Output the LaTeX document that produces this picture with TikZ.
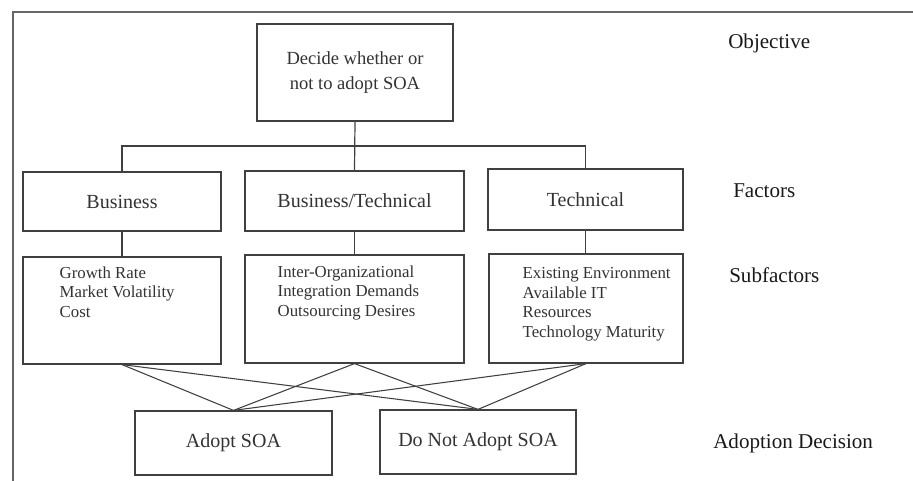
\documentclass[tikz,border=0pt]{standalone}
\usepackage{fontspec}
\setmainfont{Liberation Serif}
\begin{document}
\begin{tikzpicture}[x=0.75pt,y=-0.75pt,
  line/.style={draw=black!75,line width=0.9pt},
  box/.style={rectangle,draw=black!75,line width=0.9pt,inner sep=0pt,fill=white},
  sz/.style 2 args={minimum width=#1*0.75pt,minimum height=#2*0.75pt},
  objtext/.style={align=center,text=black!80,font=\fontsize{13.9}{18.75}\selectfont},
  factext/.style={text=black!80,font=\fontsize{15}{18}\selectfont},
  subtext/.style={align=left,text=black!80,inner sep=0pt,anchor=north west,font=\fontsize{12.6}{14.6}\selectfont},
  levellabel/.style={anchor=west,inner sep=0pt,text=black!90,font=\fontsize{15.8}{18}\selectfont}]
\useasboundingbox (0,0) rectangle (913,481);
% outer frame
\draw[draw=black!60,line width=1.1pt] (913,12) -- (13,12) -- (13,481);
% objective
\node[box,sz={196}{97}] (obj) at (355,72.5) {};
\node[objtext] (objt) at (obj.center) {Decide whether or\\not to adopt SOA};
% factors
\node[box,sz={198}{59}] (fB) at (122,201.5) {};
\node[factext] (fBt) at (fB.center) {Business};
\node[box,sz={219}{60}] (fBT) at (354.5,201) {};
\node[factext] (fBTt) at (fBT.center) {Business/Technical};
\node[box,sz={195}{61}] (fT) at (585.5,199.5) {};
\node[factext] (fTt) at (fT.center) {Technical};
% subfactors
\node[box,sz={198}{107}] (sB) at (122,310.5) {};
\node[box,sz={219}{108}] (sBT) at (354.5,309) {};
\node[box,sz={194}{109}] (sT) at (586,308.5) {};
\node[subtext] (sBt) at ([shift={(37,10)}]sB.north west) {Growth Rate\\Market Volatility\\Cost};
\node[subtext] (sBTt) at ([shift={(33,11)}]sBT.north west) {Inter-Organizational\\Integration Demands\\Outsourcing Desires};
\node[subtext] (sTt) at ([shift={(34,14)}]sT.north west) {Existing Environment\\Available IT\\Resources\\Technology Maturity};
% decisions
\node[box,sz={197}{64}] (dA) at (233.5,443) {};
\node[factext] (dAt) at (dA.center) {Adopt SOA};
\node[box,sz={196}{64}] (dN) at (478,442) {};
\node[factext] (dNt) at (dN.center) {Do Not Adopt SOA};
% connectors
\coordinate (bar) at (355,146);
\draw[line] (obj.south) -- (fBT.north);
\draw[line] (fB.north) |- (bar) -| (fT.north);
\draw[line] (fB.south) -- (sB.north);
\draw[line] (fBT.south) -- (sBT.north);
\draw[line] (fT.south) -- (fT.south |- sT.north);
\foreach \s in {sB,sBT,sT}{
  \draw[line,line width=0.8pt] (\s.south) -- (dA.north);
  \draw[line,line width=0.8pt] (\s.south) -- (dN.north);
}
% level labels
\node[levellabel] (lo) at (728,43) {Objective};
\node[levellabel] (lf) at (733,191) {Factors};
\node[levellabel] (ls) at (729,275) {Subfactors};
\node[levellabel] (la) at (713,443) {Adoption Decision};
\end{tikzpicture}
\end{document}
